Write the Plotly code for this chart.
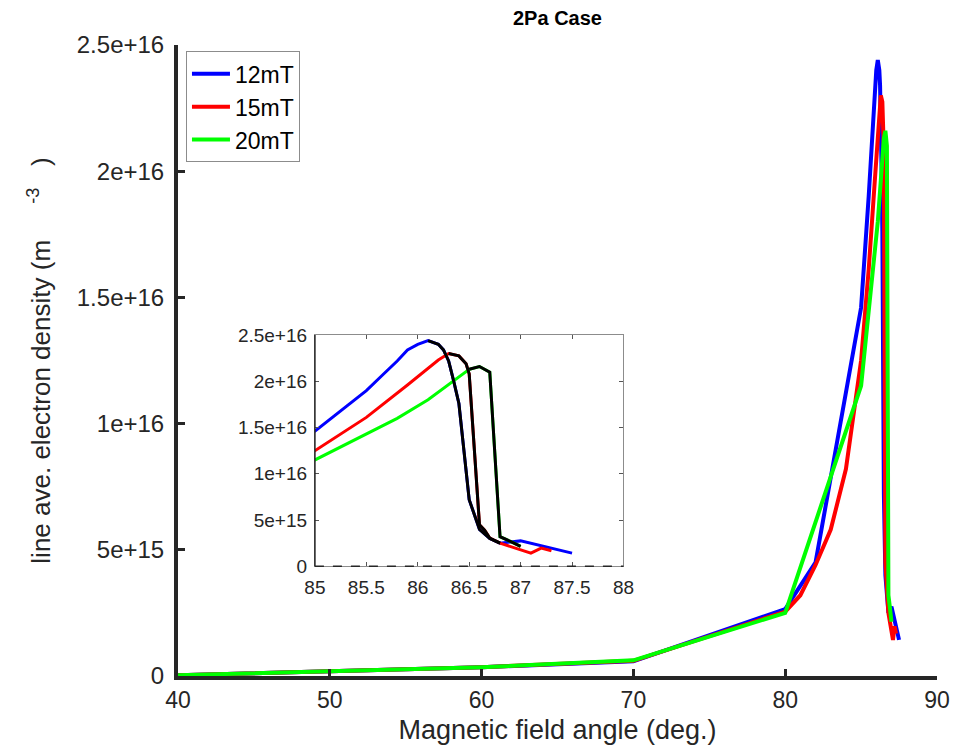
import plotly.graph_objects as go

# ---------------- data ----------------
series_names = ["12mT", "15mT", "20mT"]
series_colors = ["#0000ff", "#ff0000", "#00ff00"]

angle_12 = [40, 50, 60, 70, 80, 82, 85, 85.5, 85.65, 85.8, 85.9, 86.0, 86.1, 86.2,
            86.25, 86.3, 86.35, 86.4, 86.45, 86.5, 86.6, 86.7, 86.8, 87.0, 87.5]
dens_12 = [0.03e15, 0.2e15, 0.35e15, 0.58e15, 2.65e15, 4.5e15, 14.6e15, 19.0e15, 20.6e15,
           22.2e15, 23.4e15, 24.0e15, 24.4e15, 24.0e15, 23.4e15, 22.2e15, 20.0e15, 17.6e15,
           12.4e15, 7.2e15, 4.0e15, 3.0e15, 2.5e15, 2.75e15, 1.43e15]

angle_15 = [40, 50, 60, 70, 80, 81, 82, 83, 84, 85, 85.5, 85.9, 86.0, 86.2, 86.3, 86.4,
            86.47, 86.5, 86.6, 86.65, 86.7, 86.8, 87.1, 87.2, 87.3]
dens_15 = [0.03e15, 0.2e15, 0.35e15, 0.6e15, 2.55e15, 3.2e15, 4.4e15, 5.8e15, 8.2e15,
           12.5e15, 16.1e15, 19.6e15, 20.5e15, 22.3e15, 23.0e15, 22.75e15, 21.9e15,
           20.8e15, 4.5e15, 3.9e15, 3.05e15, 2.5e15, 1.43e15, 1.97e15, 1.68e15]

angle_20 = [40, 50, 60, 70, 80, 85, 85.8, 86.1, 86.5, 86.6, 86.7, 86.8, 86.9, 87.0]
dens_20 = [0.03e15, 0.2e15, 0.35e15, 0.62e15, 2.5e15, 11.5e15, 16.0e15, 18.0e15,
           21.3e15, 21.6e15, 21.0e15, 3.2e15, 2.7e15, 2.15e15]

# angle windows highlighted in black in the inset (peak -> drop)
black_windows = [(86.1, 86.8), (86.3, 86.8), (86.5, 87.0)]

main_xticks = [40, 50, 60, 70, 80, 90]
main_yticks = [0, 5e15, 1e16, 1.5e16, 2e16, 2.5e16]
main_yticklabels = ["0", "5e+15", "1e+16", "1.5e+16", "2e+16", "2.5e+16"]
inset_xticks = [85, 85.5, 86, 86.5, 87, 87.5, 88]
inset_xticklabels = ["85", "85.5", "86", "86.5", "87", "87.5", "88"]

# ---------------- figure ----------------
AX = "#262626"
NARROW = "Liberation Sans Narrow, Liberation Sans, Arial, sans-serif"
SANS = "Liberation Sans, Arial, sans-serif"

all_x = [angle_12, angle_15, angle_20]
all_y = [dens_12, dens_15, dens_20]

fig = go.Figure()
for name, color, xs, ys in zip(series_names, series_colors, all_x, all_y):
    fig.add_trace(go.Scatter(x=xs, y=ys, mode="lines", name=name,
                             line=dict(color=color, width=4),
                             xaxis="x", yaxis="y"))

for color, xs, ys in zip(series_colors, all_x, all_y):
    fig.add_trace(go.Scatter(x=xs, y=ys, mode="lines", showlegend=False,
                             line=dict(color=color, width=3),
                             xaxis="x2", yaxis="y2"))

for (lo, hi), xs, ys in zip(black_windows, all_x, all_y):
    bx = [a for a in xs if lo <= a <= hi]
    by = [b for a, b in zip(xs, ys) if lo <= a <= hi]
    fig.add_trace(go.Scatter(x=bx, y=by, mode="lines", showlegend=False,
                             line=dict(color="black", width=3),
                             xaxis="x2", yaxis="y2"))

axis_common = dict(showgrid=False, zeroline=False, showline=True, linewidth=4,
                   linecolor=AX, ticks="inside", ticklen=7, tickwidth=3, tickcolor=AX)

ix0, ix1 = 0.1804, 0.5869
iy0, iy1 = 0.1738, 0.5403

ytitle = ("line ave. electron density (m&nbsp;&nbsp;&nbsp;&nbsp;&nbsp;"
          "<sup>-3</sup>&nbsp;&nbsp;&nbsp;)")

fig.update_layout(
    width=962, height=753,
    margin=dict(l=178, r=19, t=45, b=75),
    paper_bgcolor="white", plot_bgcolor="white",
    xaxis=dict(range=[40, 90], tickvals=main_xticks, domain=[0, 1],
               tickfont=dict(family=NARROW, size=23, color=AX),
               title=dict(text="Magnetic field angle (deg.)", standoff=10,
                          font=dict(family=NARROW, size=27, color=AX)),
               **axis_common),
    yaxis=dict(range=[0, 2.5e16], tickvals=main_yticks, ticktext=main_yticklabels,
               domain=[0, 1], ticklabelstandoff=5,
               tickfont=dict(family=SANS, size=24, color=AX),
               title=dict(text=ytitle, standoff=20,
                          font=dict(family=SANS, size=26, color=AX)),
               **axis_common),
    xaxis2=dict(domain=[ix0, ix1], anchor="y2", range=[85, 88], tickvals=inset_xticks,
                ticktext=inset_xticklabels, showgrid=False, zeroline=False,
                showline=True, mirror="ticks", linecolor="#8c8c8c", linewidth=1,
                ticks="inside", ticklen=4, tickcolor="#555555", ticklabelstandoff=4,
                tickfont=dict(family=SANS, size=19, color=AX)),
    yaxis2=dict(domain=[iy0, iy1], anchor="x2", range=[0, 2.5e16], tickvals=main_yticks,
                ticktext=main_yticklabels, showgrid=False, zeroline=False,
                showline=True, mirror="ticks", linecolor="#8c8c8c", linewidth=1,
                ticks="inside", ticklen=4, tickcolor="#555555", ticklabelstandoff=3,
                tickfont=dict(family=SANS, size=19, color=AX)),
    legend=dict(x=0.0105, y=0.99, xanchor="left", yanchor="top",
                bgcolor="white", bordercolor="#8c8c8c", borderwidth=1,
                font=dict(family=SANS, size=23, color="black"),
                tracegroupgap=0, itemwidth=38),
    showlegend=True,
    annotations=[dict(text="<b>2Pa Case</b>", xref="paper", yref="paper",
                      x=0.5, y=1.0427, yanchor="middle", showarrow=False,
                      font=dict(family=SANS, size=20, color="black"))],
    shapes=[
        dict(type="line", xref="paper", yref="paper", x0=ix0, x1=ix0, y0=iy0, y1=iy1,
             line=dict(color=AX, width=1.5)),
        dict(type="line", xref="paper", yref="paper", x0=ix0, x1=ix1, y0=iy0, y1=iy0,
             line=dict(color=AX, width=1.5, dash="dash")),
    ],
)

fig.write_html("out.html")
